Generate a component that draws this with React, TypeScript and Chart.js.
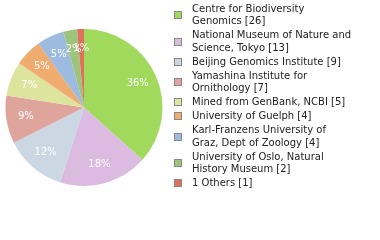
import React, { useEffect, useRef } from "react";
import { Chart, registerables } from "chart.js";

Chart.register(...registerables);

const labelLines: string[][] = [
  ["Centre for Biodiversity", "Genomics [26]"],
  ["National Museum of Nature and", "Science, Tokyo [13]"],
  ["Beijing Genomics Institute [9]"],
  ["Yamashina Institute for", "Ornithology [7]"],
  ["Mined from GenBank, NCBI [5]"],
  ["University of Guelph [4]"],
  ["Karl-Franzens University of", "Graz, Dept of Zoology [4]"],
  ["University of Oslo, Natural", "History Museum [2]"],
  ["1 Others [1]"],
];
const values: number[] = [26, 13, 9, 7, 5, 4, 4, 2, 1];
const colors: string[] = [
  "#a0d95b",
  "#dbbbdf",
  "#cbd8e4",
  "#dfa59c",
  "#dde49e",
  "#f0ab6f",
  "#9cbbdf",
  "#9dc47b",
  "#df705c",
];

const pctPlugin = {
  id: "pctLabels",
  afterDatasetsDraw(chart: any) {
    const ctx = chart.ctx;
    const meta = chart.getDatasetMeta(0);
    const data = chart.data.datasets[0].data as number[];
    const total = data.reduce((a, b) => a + b, 0);
    ctx.save();
    ctx.font = "10px 'DejaVu Sans'";
    ctx.fillStyle = "#ffffff";
    ctx.textAlign = "center";
    ctx.textBaseline = "middle";
    meta.data.forEach((arc: any, i: number) => {
      const p = arc.getProps(["x", "y", "startAngle", "endAngle", "outerRadius"], true);
      const mid = (p.startAngle + p.endAngle) / 2;
      const r = p.outerRadius * 0.75;
      const x = p.x + Math.cos(mid) * r;
      const y = p.y + Math.sin(mid) * r;
      const pct = Math.floor((data[i] / total) * 100);
      ctx.fillText(pct + "%", x, y);
    });
    ctx.restore();
  },
};

export default function App() {
  const ref = useRef<HTMLCanvasElement | null>(null);
  useEffect(() => {
    document.body.style.margin = "0";
    const chart = new Chart(ref.current as HTMLCanvasElement, {
      type: "pie",
      data: {
        labels: labelLines.map((l) => l.join(" ")),
        datasets: [
          {
            data: values,
            backgroundColor: colors,
            borderWidth: 0,
          },
        ],
      },
      options: {
        responsive: false,
        animation: false,
        layout: { padding: { left: 5, top: 29, right: 217, bottom: 54 } },
        plugins: { legend: { display: false }, tooltip: { enabled: false } },
      },
      plugins: [pctPlugin],
    });
    return () => chart.destroy();
  }, []);
  return (
    <div style={{ position: "relative", width: 380, height: 240, background: "#fff" }}>
      <canvas ref={ref} width={380} height={240} style={{ position: "absolute", left: 0, top: 0 }} />
      <div
        style={{
          position: "absolute",
          left: 174,
          top: 2.5,
          fontFamily: "'DejaVu Sans'",
          fontSize: 10,
          lineHeight: "12.5px",
          color: "#222",
        }}
      >
        {labelLines.map((lines, i) => (
          <div key={i} style={{ display: "flex", alignItems: "center", marginBottom: 1.5 }}>
            <div
              style={{
                width: 6,
                height: 6,
                background: colors[i],
                border: "1px solid #888",
                flex: "none",
              }}
            />
            <div style={{ marginLeft: 10, whiteSpace: "nowrap" }}>
              {lines.map((t, j) => (
                <div key={j}>{t}</div>
              ))}
            </div>
          </div>
        ))}
      </div>
    </div>
  );
}
